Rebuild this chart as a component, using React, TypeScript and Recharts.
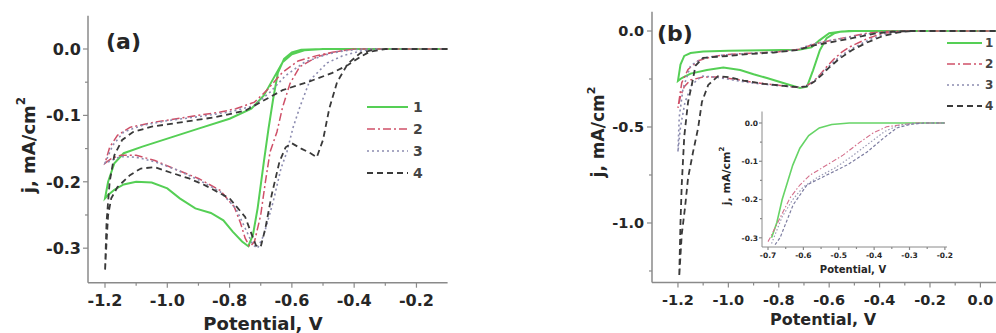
import { Line, LineChart, XAxis, YAxis } from "recharts";

// [potential (V), current density (mA/cm2)], in scan order
const a1 = [
  [-0.1, 0], [-0.5, 0], [-0.56, -0.002], [-0.6, -0.008], [-0.63, -0.02], [-0.66, -0.045],
  [-0.69, -0.07], [-0.73, -0.09], [-0.8, -0.105], [-0.9, -0.12], [-1.0, -0.135], [-1.08, -0.147],
  [-1.14, -0.157], [-1.17, -0.172], [-1.19, -0.2], [-1.2, -0.225],
  [-1.19, -0.22], [-1.17, -0.212], [-1.14, -0.204], [-1.1, -0.2], [-1.05, -0.201], [-1.0, -0.21],
  [-0.96, -0.225], [-0.91, -0.24], [-0.86, -0.247], [-0.82, -0.258], [-0.79, -0.275], [-0.76, -0.29],
  [-0.74, -0.297], [-0.725, -0.28], [-0.71, -0.24], [-0.69, -0.17], [-0.675, -0.12], [-0.66, -0.075],
  [-0.645, -0.036], [-0.625, -0.015], [-0.6, -0.005], [-0.57, -0.001], [-0.5, 0],
];
const a2 = [
  [-0.1, 0], [-0.4, 0], [-0.47, -0.005], [-0.52, -0.01], [-0.58, -0.018], [-0.63, -0.035],
  [-0.68, -0.062], [-0.72, -0.08], [-0.78, -0.09], [-0.83, -0.095], [-0.93, -0.102], [-1.04, -0.11],
  [-1.12, -0.118], [-1.16, -0.13], [-1.185, -0.148], [-1.2, -0.172],
  [-1.18, -0.165], [-1.15, -0.16], [-1.1, -0.16], [-1.04, -0.168], [-0.98, -0.18], [-0.9, -0.195],
  [-0.83, -0.213], [-0.785, -0.238], [-0.765, -0.262], [-0.75, -0.285], [-0.735, -0.298],
  [-0.72, -0.29], [-0.7, -0.25], [-0.685, -0.2], [-0.67, -0.155], [-0.648, -0.125], [-0.63, -0.088],
  [-0.606, -0.052], [-0.575, -0.027], [-0.52, -0.012], [-0.47, -0.005], [-0.4, 0],
];
const a3 = [
  [-0.1, 0], [-0.38, 0], [-0.45, -0.004], [-0.5, -0.01], [-0.56, -0.02], [-0.62, -0.04],
  [-0.67, -0.065], [-0.72, -0.085], [-0.8, -0.095], [-0.9, -0.102], [-1.0, -0.108], [-1.08, -0.115],
  [-1.14, -0.125], [-1.175, -0.145], [-1.2, -0.172],
  [-1.18, -0.168], [-1.15, -0.162], [-1.1, -0.163], [-1.04, -0.17], [-0.97, -0.182], [-0.9, -0.197],
  [-0.83, -0.215], [-0.78, -0.24], [-0.75, -0.27], [-0.725, -0.295], [-0.71, -0.3], [-0.69, -0.28],
  [-0.66, -0.23], [-0.635, -0.18], [-0.616, -0.155], [-0.596, -0.118], [-0.574, -0.087],
  [-0.542, -0.047], [-0.487, -0.021], [-0.436, -0.01], [-0.38, -0.003], [-0.33, 0],
];
const a4 = [
  [-0.1, 0], [-0.3, 0], [-0.35, -0.004], [-0.38, -0.012], [-0.42, -0.024], [-0.47, -0.036],
  [-0.55, -0.05], [-0.63, -0.062], [-0.7, -0.08], [-0.75, -0.093], [-0.85, -0.103], [-0.95, -0.11],
  [-1.05, -0.117], [-1.11, -0.125], [-1.145, -0.137], [-1.17, -0.16], [-1.185, -0.2],
  [-1.195, -0.26], [-1.2, -0.335],
  [-1.195, -0.29], [-1.19, -0.25], [-1.18, -0.225], [-1.16, -0.208], [-1.12, -0.19], [-1.085, -0.18],
  [-1.04, -0.178], [-0.99, -0.186], [-0.93, -0.195], [-0.88, -0.205], [-0.8, -0.225], [-0.75, -0.253],
  [-0.73, -0.278], [-0.715, -0.296], [-0.7, -0.298], [-0.685, -0.27], [-0.665, -0.22], [-0.64, -0.17],
  [-0.62, -0.148], [-0.6, -0.142], [-0.57, -0.15], [-0.54, -0.157], [-0.52, -0.163], [-0.5, -0.137],
  [-0.48, -0.09], [-0.455, -0.05], [-0.42, -0.022], [-0.38, -0.006], [-0.33, 0],
];

const b1 = [
  [0.1, 0], [-0.5, 0], [-0.55, -0.002], [-0.6, -0.012], [-0.64, -0.05], [-0.67, -0.085],
  [-0.72, -0.098], [-0.85, -0.1], [-1.0, -0.103], [-1.1, -0.107], [-1.15, -0.115], [-1.175, -0.13],
  [-1.19, -0.175], [-1.2, -0.26],
  [-1.185, -0.245], [-1.15, -0.222], [-1.085, -0.203], [-1.02, -0.19], [-0.953, -0.203],
  [-0.9, -0.225], [-0.847, -0.245], [-0.756, -0.281], [-0.716, -0.297], [-0.688, -0.29],
  [-0.664, -0.205], [-0.637, -0.1], [-0.61, -0.037], [-0.58, -0.012], [-0.557, -0.004], [-0.5, 0],
];
const b2 = [
  [0.1, 0], [-0.3, 0], [-0.38, -0.003], [-0.45, -0.012], [-0.52, -0.03], [-0.58, -0.045],
  [-0.65, -0.065], [-0.72, -0.095], [-0.8, -0.108], [-0.9, -0.115], [-1.0, -0.122], [-1.07, -0.135],
  [-1.12, -0.155], [-1.16, -0.2], [-1.185, -0.27], [-1.2, -0.4],
  [-1.19, -0.34], [-1.175, -0.29], [-1.15, -0.255], [-1.1, -0.24], [-1.04, -0.24], [-0.98, -0.25],
  [-0.9, -0.268], [-0.82, -0.28], [-0.75, -0.29], [-0.71, -0.292], [-0.69, -0.285], [-0.664, -0.265],
  [-0.635, -0.225], [-0.61, -0.186], [-0.58, -0.145], [-0.55, -0.11], [-0.517, -0.082],
  [-0.45, -0.04], [-0.39, -0.013], [-0.33, -0.003], [-0.28, 0],
];
const b3 = [
  [0.1, 0], [-0.3, 0], [-0.37, -0.004], [-0.44, -0.014], [-0.52, -0.033], [-0.6, -0.05],
  [-0.67, -0.07], [-0.73, -0.098], [-0.82, -0.11], [-0.92, -0.117], [-1.02, -0.125], [-1.1, -0.14],
  [-1.15, -0.18], [-1.18, -0.3], [-1.195, -0.45], [-1.2, -0.63],
  [-1.19, -0.5], [-1.172, -0.37], [-1.145, -0.28], [-1.105, -0.235], [-1.05, -0.24], [-0.97, -0.258],
  [-0.9, -0.272], [-0.82, -0.282], [-0.75, -0.29], [-0.71, -0.293], [-0.685, -0.283],
  [-0.655, -0.255], [-0.625, -0.215], [-0.59, -0.17], [-0.55, -0.125], [-0.5, -0.085],
  [-0.44, -0.045], [-0.38, -0.016], [-0.32, -0.003], [-0.27, 0],
];
const b4 = [
  [0.1, 0], [-0.28, 0], [-0.35, -0.004], [-0.42, -0.014], [-0.5, -0.035], [-0.58, -0.055],
  [-0.66, -0.075], [-0.73, -0.1], [-0.82, -0.112], [-0.92, -0.12], [-1.0, -0.13], [-1.1, -0.14],
  [-1.13, -0.18], [-1.145, -0.28], [-1.16, -0.37], [-1.175, -0.55], [-1.185, -0.8], [-1.19, -1.0],
  [-1.195, -1.28],
  [-1.185, -1.06], [-1.172, -0.92], [-1.16, -0.766], [-1.14, -0.63], [-1.12, -0.505],
  [-1.105, -0.37], [-1.08, -0.281], [-1.041, -0.235], [-1.0, -0.24], [-0.94, -0.258],
  [-0.86, -0.275], [-0.78, -0.286], [-0.72, -0.293], [-0.69, -0.288], [-0.66, -0.265],
  [-0.63, -0.23], [-0.6, -0.19], [-0.56, -0.145], [-0.51, -0.1], [-0.45, -0.06], [-0.39, -0.028],
  [-0.33, -0.008], [-0.27, 0],
];

// inset of panel (b)
const i1 = [
  [-0.69, -0.3], [-0.675, -0.26], [-0.66, -0.2], [-0.645, -0.155], [-0.63, -0.11], [-0.61, -0.066],
  [-0.585, -0.033], [-0.555, -0.013], [-0.52, -0.004], [-0.47, 0], [-0.2, 0],
];
const i2 = [
  [-0.7, -0.31], [-0.694, -0.3], [-0.666, -0.248], [-0.638, -0.196], [-0.61, -0.162],
  [-0.581, -0.136], [-0.534, -0.11], [-0.488, -0.084], [-0.44, -0.05], [-0.403, -0.026],
  [-0.365, -0.01], [-0.318, -0.004], [-0.28, 0], [-0.2, 0],
];
const i3 = [
  [-0.69, -0.315], [-0.66, -0.245], [-0.63, -0.2], [-0.6, -0.167], [-0.56, -0.142], [-0.51, -0.117],
  [-0.46, -0.085], [-0.41, -0.05], [-0.37, -0.022], [-0.33, -0.006], [-0.29, -0.001], [-0.2, 0],
];
const i4 = [
  [-0.68, -0.318], [-0.666, -0.3], [-0.629, -0.214], [-0.59, -0.162], [-0.534, -0.136],
  [-0.477, -0.11], [-0.42, -0.076], [-0.374, -0.04], [-0.336, -0.013], [-0.3, -0.004],
  [-0.26, 0], [-0.2, 0],
];

const aXMajor = [-1.2, -1.0, -0.8, -0.6, -0.4, -0.2];
const aXMinor = [-1.1, -0.9, -0.7, -0.5, -0.3];
const aYMajor = [0, -0.1, -0.2, -0.3];
const aYMinor = [-0.05, -0.15, -0.25];
const bXMajor = [-1.2, -1.0, -0.8, -0.6, -0.4, -0.2, 0];
const bXMinor = [-1.1, -0.9, -0.7, -0.5, -0.3, -0.1];
const bYMajor = [0, -0.5, -1.0];
const bYMinor = [-0.25, -0.75, -1.25];
const iXMajor = [-0.7, -0.6, -0.5, -0.4, -0.3, -0.2];
const iXMinor = [-0.65, -0.55, -0.45, -0.35, -0.25];
const iYMajor = [0, -0.1, -0.2, -0.3];
const iYMinor = [-0.05, -0.15, -0.25];

const legendLabels = ["1", "2", "3", "4"];

const FONT = "'DejaVu Sans', Verdana, sans-serif";
const AXIS = "#8a8a8a";
const TEXT = "#262626";

const styles = [
  { stroke: "#55cf55", dash: undefined, width: 2 },
  { stroke: "#cf5068", dash: "8 3 2 3", width: 1.5 },
  { stroke: "#8c8cb0", dash: "2 3", width: 1.6 },
  { stroke: "#3a3a3a", dash: "6 4", width: 1.8 },
];
const insetStyles = [
  { stroke: "#66d466", dash: undefined, width: 1.6 },
  { stroke: "#d4708c", dash: "5 2 1.5 2", width: 1.1 },
  { stroke: "#9a9ab4", dash: "1.5 2", width: 1.2 },
  { stroke: "#7c7ca0", dash: "3 2", width: 1.2 },
];

const toPts = (arr: number[][]) => arr.map(([E, j]) => ({ E, j }));

function AxisTick(props: any) {
  const { x, y, payload, side, majors, fontSize, gap, major, minor } = props;
  const v = payload.value;
  const isMajor = majors.some((m: number) => Math.abs(m - v) < 1e-9);
  const len = isMajor ? major : minor;
  if (side === "bottom") {
    return (
      <g>
        <line x1={x} x2={x} y1={y} y2={y + len} stroke={AXIS} strokeWidth={1.2} />
        {isMajor && (
          <text x={x} y={y + gap} textAnchor="middle" fontSize={fontSize} fontWeight="bold" fontFamily={FONT} fill={TEXT}>
            {v.toFixed(1)}
          </text>
        )}
      </g>
    );
  }
  return (
    <g>
      <line x1={x} x2={x - len} y1={y} y2={y} stroke={AXIS} strokeWidth={1.2} />
      {isMajor && (
        <text x={x - gap} y={y} dy="0.36em" textAnchor="end" fontSize={fontSize} fontWeight="bold" fontFamily={FONT} fill={TEXT}>
          {v.toFixed(1)}
        </text>
      )}
    </g>
  );
}

function Series({ sets, st }: { sets: number[][][]; st: typeof styles }) {
  return (
    <>
      {sets.map((s, k) => (
        <Line
          key={k}
          data={toPts(s)}
          dataKey="j"
          type="linear"
          dot={false}
          activeDot={false}
          stroke={st[k].stroke}
          strokeWidth={st[k].width}
          strokeDasharray={st[k].dash}
          isAnimationActive={false}
        />
      ))}
    </>
  );
}

export default function App() {
  const axisLine = { stroke: AXIS, strokeWidth: 1.5 };
  return (
    <div style={{ position: "absolute", left: 0, top: 0, width: 996, height: 333, overflow: "hidden", background: "#fff" }}>
      {/* panel (a) */}
      <div style={{ position: "absolute", left: 0, top: 0 }}>
        <LineChart width={460} height={333} margin={{ top: 15.8, right: 12.4, bottom: 0, left: 0 }}>
          <XAxis
            dataKey="E"
            type="number"
            domain={[-1.2546, -0.1]}
            allowDataOverflow
            ticks={[...aXMajor, ...aXMinor]}
            interval={0}
            height={50.3}
            tickSize={0}
            tickMargin={0}
            axisLine={axisLine}
            tickLine={false}
            tick={<AxisTick side="bottom" majors={aXMajor} fontSize={16} gap={23} major={5} minor={3} />}
          />
          <YAxis
            type="number"
            domain={[-0.352, 0.05]}
            allowDataOverflow
            ticks={[...aYMajor, ...aYMinor]}
            interval={0}
            width={88}
            tickSize={0}
            tickMargin={0}
            axisLine={axisLine}
            tickLine={false}
            tick={<AxisTick side="left" majors={aYMajor} fontSize={16} gap={7} major={5} minor={3} />}
          />
          {Series({ sets: [a1, a2, a3, a4], st: styles })}
        </LineChart>
      </div>

      {/* panel (b) */}
      <div style={{ position: "absolute", left: 560, top: 0 }}>
        <LineChart width={460} height={333} margin={{ top: 11.8, right: 14.4, bottom: 0, left: 0 }}>
          <XAxis
            dataKey="E"
            type="number"
            domain={[-1.303, 0.1]}
            allowDataOverflow
            ticks={[...bXMajor, ...bXMinor]}
            interval={0}
            height={50.5}
            tickSize={0}
            tickMargin={0}
            axisLine={axisLine}
            tickLine={false}
            tick={<AxisTick side="bottom" majors={bXMajor} fontSize={14.5} gap={22} major={5} minor={3} />}
          />
          <YAxis
            type="number"
            domain={[-1.31, 0.1]}
            allowDataOverflow
            ticks={[...bYMajor, ...bYMinor]}
            interval={0}
            width={92}
            tickSize={0}
            tickMargin={0}
            axisLine={axisLine}
            tickLine={false}
            tick={<AxisTick side="left" majors={bYMajor} fontSize={14.5} gap={8} major={5} minor={3} />}
          />
          {Series({ sets: [b1, b2, b3, b4], st: styles })}
        </LineChart>
      </div>

      {/* inset in panel (b) */}
      <div style={{ position: "absolute", left: 722, top: 100 }}>
        <LineChart width={235} height={177} margin={{ top: 11.5, right: 10, bottom: 0, left: 0 }}>
          <XAxis
            dataKey="E"
            type="number"
            domain={[-0.717, -0.194]}
            allowDataOverflow
            ticks={[...iXMajor, ...iXMinor]}
            interval={0}
            height={30}
            tickSize={0}
            tickMargin={0}
            axisLine={{ stroke: AXIS, strokeWidth: 1 }}
            tickLine={false}
            tick={<AxisTick side="bottom" majors={iXMajor} fontSize={7.5} gap={11} major={3} minor={2} />}
          />
          <YAxis
            type="number"
            domain={[-0.324, 0.03]}
            allowDataOverflow
            ticks={[...iYMajor, ...iYMinor]}
            interval={0}
            width={40}
            tickSize={0}
            tickMargin={0}
            axisLine={{ stroke: AXIS, strokeWidth: 1 }}
            tickLine={false}
            tick={<AxisTick side="left" majors={iYMajor} fontSize={7.5} gap={4} major={3} minor={2} />}
          />
          {Series({ sets: [i1, i2, i3, i4], st: insetStyles })}
        </LineChart>
      </div>

      {/* titles, panel letters and legends */}
      <svg width={996} height={333} style={{ position: "absolute", left: 0, top: 0, pointerEvents: "none" }}>
        <g fontFamily={FONT} fontWeight="bold" fill={TEXT}>
          <text x={106} y={49} fontSize={22}>(a)</text>
          <text x={657} y={41} fontSize={22}>(b)</text>
          <text x={263} y={330} fontSize={18} textAnchor="middle">Potential, V</text>
          <text x={823} y={325} fontSize={16} textAnchor="middle">Potential, V</text>
          <text x={853} y={273} fontSize={10} textAnchor="middle">Potential, V</text>
          <text x={28} y={145} fontSize={18} textAnchor="middle" dominantBaseline="central" transform="rotate(-90 28 145)">
            j, mA/cm<tspan dy={-7} fontSize={12}>2</tspan>
          </text>
          <text x={598} y={132} fontSize={17} textAnchor="middle" dominantBaseline="central" transform="rotate(-90 598 132)">
            j, mA/cm<tspan dy={-7} fontSize={11}>2</tspan>
          </text>
          <text x={726} y={176} fontSize={11} textAnchor="middle" dominantBaseline="central" transform="rotate(-90 726 176)">
            j, mA/cm<tspan dy={-4} fontSize={7}>2</tspan>
          </text>
        </g>
        {legendLabels.map((lab, k) => (
          <g key={`la${k}`}>
            <line x1={367} x2={408} y1={107 + k * 22} y2={107 + k * 22} stroke={styles[k].stroke} strokeWidth={styles[k].width} strokeDasharray={styles[k].dash} />
            <text x={413} y={107 + k * 22} dy="0.36em" fontSize={14} fontWeight="bold" fontFamily={FONT} fill="#444">{lab}</text>
          </g>
        ))}
        {legendLabels.map((lab, k) => (
          <g key={`lb${k}`}>
            <line x1={947} x2={982} y1={43 + k * 21} y2={43 + k * 21} stroke={styles[k].stroke} strokeWidth={styles[k].width} strokeDasharray={styles[k].dash} />
            <text x={985} y={43 + k * 21} dy="0.36em" fontSize={12} fontWeight="bold" fontFamily={FONT} fill="#444">{lab}</text>
          </g>
        ))}
      </svg>
    </div>
  );
}
